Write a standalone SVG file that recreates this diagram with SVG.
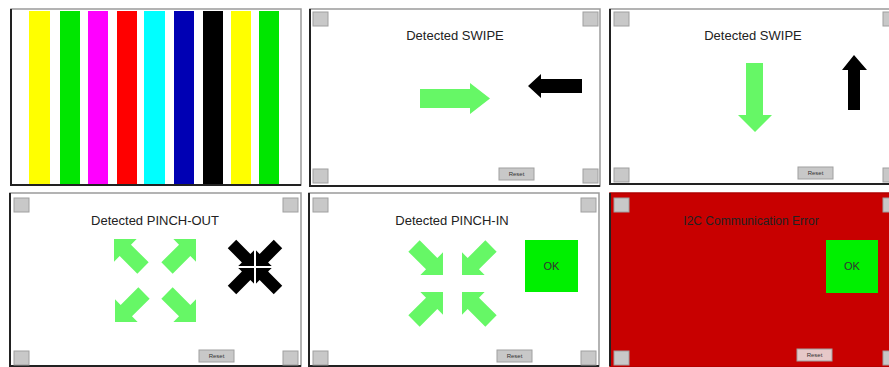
<svg xmlns="http://www.w3.org/2000/svg" xmlns:xlink="http://www.w3.org/1999/xlink" width="889" height="367" viewBox="0 0 889 367">
<style>
.frame{fill:#fff;stroke:#9a9a9a;stroke-width:1.5}
.edge{stroke:#222;stroke-width:2;fill:none}
.corner{fill:#c8c8c8;stroke:#a0a0a0;stroke-width:1}
.btn{fill:#c8c8c8;stroke:#a0a0a0;stroke-width:1}
.btxt{font-family:"Liberation Sans",Arial,sans-serif;font-size:6px;fill:#333;text-anchor:middle}
.title{font-family:"Liberation Sans",Arial,sans-serif;font-size:13px;fill:#222;text-anchor:middle}
.ok{fill:#00f000}
.oktxt{font-family:"Liberation Sans",Arial,sans-serif;font-size:11px;fill:#333;text-anchor:middle}
.g{fill:#66f766}
.k{fill:#000}
</style>
<defs>
<path id="pa" d="M0,-8 L25,-8 L25,-16 L41,0 L25,16 L25,8 L0,8 Z"/>
<path id="ka" d="M0,-6 L20,-6 L20,-13 L33,0 L20,13 L20,6 L0,6 Z"/>
</defs>
<rect width="889" height="367" fill="#fff"/>

<g id="panel-colorbars">
<rect class="frame" x="11" y="9" width="290" height="176"/>
<rect x="29" y="11" width="21" height="173" fill="#ffff00"/>
<rect x="60" y="11" width="20" height="173" fill="#00e600"/>
<rect x="88" y="11" width="20" height="173" fill="#ff00ff"/>
<rect x="117" y="11" width="20" height="173" fill="#ff0000"/>
<rect x="144" y="11" width="21" height="173" fill="#00ffff"/>
<rect x="174" y="11" width="20" height="173" fill="#0000b4"/>
<rect x="203" y="11" width="20" height="173" fill="#000"/>
<rect x="231" y="11" width="20" height="173" fill="#ffff00"/>
<rect x="259" y="11" width="20" height="173" fill="#00e600"/>
<path class="edge" d="M11,9 V185 H301"/>
</g>

<g id="panel-swipe-h">
<rect class="frame" x="310" y="9" width="290" height="177"/>
<path class="edge" d="M310,9 V186 H600"/>
<rect class="corner" x="313" y="12" width="15" height="14"/>
<rect class="corner" x="583" y="12" width="15" height="14"/>
<rect class="corner" x="313" y="169" width="15" height="14"/>
<rect class="corner" x="583" y="169" width="15" height="14"/>
<text class="title" x="455" y="40">Detected SWIPE</text>
<path class="g" d="M420,89 L470,89 L470,83 L490,98.5 L470,114 L470,108 L420,108 Z"/>
<path class="k" d="M528,86 L541,74 L541,79 L582,79 L582,93 L541,93 L541,98 Z"/>
<rect class="btn" x="499" y="168" width="35" height="12"/>
<text class="btxt" x="516.5" y="176">Reset</text>
</g>

<g id="panel-swipe-v">
<rect class="frame" x="610" y="9" width="290" height="175"/>
<path class="edge" d="M610,9 V184 H889"/>
<rect class="corner" x="614" y="12" width="15" height="14"/>
<rect class="corner" x="883" y="12" width="15" height="14"/>
<rect class="corner" x="614" y="168" width="15" height="14"/>
<rect class="corner" x="883" y="168" width="15" height="14"/>
<text class="title" x="753" y="40">Detected SWIPE</text>
<path class="g" d="M746,63 L763,63 L763,115 L772,115 L755,132 L738,115 L746,115 Z"/>
<path class="k" d="M854,55 L867,70 L860,70 L860,110 L848,110 L848,70 L842,70 Z"/>
<rect class="btn" x="798" y="167" width="35" height="12"/>
<text class="btxt" x="815.5" y="175">Reset</text>
</g>

<g id="panel-pinch-out">
<rect class="frame" x="10" y="193" width="291" height="173"/>
<path class="edge" d="M10,193 V366 H301"/>
<rect class="corner" x="14" y="198" width="15" height="14"/>
<rect class="corner" x="283" y="198" width="15" height="14"/>
<rect class="corner" x="14" y="351" width="15" height="14"/>
<rect class="corner" x="283" y="351" width="15" height="14"/>
<text class="title" x="155" y="225">Detected PINCH-OUT</text>
<use class="g" href="#pa" transform="translate(143,268) rotate(225)"/>
<use class="g" href="#pa" transform="translate(167,268) rotate(-45)"/>
<use class="g" href="#pa" transform="translate(144,293) rotate(135)"/>
<use class="g" href="#pa" transform="translate(167,293) rotate(45)"/>
<use class="k" href="#ka" transform="translate(232,244) rotate(45)"/>
<use class="k" href="#ka" transform="translate(278,244) rotate(135)"/>
<use class="k" href="#ka" transform="translate(232,290) rotate(-45)"/>
<use class="k" href="#ka" transform="translate(278,290) rotate(-135)"/>
<path d="M234,267 H276 M255,246 V288" stroke="#fff" stroke-width="2"/>
<rect class="btn" x="199" y="350" width="35" height="12"/>
<text class="btxt" x="216.5" y="358">Reset</text>
</g>

<g id="panel-pinch-in">
<rect class="frame" x="309" y="193" width="290" height="173"/>
<path class="edge" d="M309,193 V366 H599"/>
<rect class="corner" x="313" y="198" width="15" height="14"/>
<rect class="corner" x="581" y="198" width="15" height="14"/>
<rect class="corner" x="313" y="351" width="15" height="14"/>
<rect class="corner" x="581" y="351" width="15" height="14"/>
<text class="title" x="452" y="225">Detected PINCH-IN</text>
<use class="g" href="#pa" transform="translate(414,246) rotate(45)"/>
<use class="g" href="#pa" transform="translate(491,246) rotate(135)"/>
<use class="g" href="#pa" transform="translate(414,321) rotate(-45)"/>
<use class="g" href="#pa" transform="translate(491,321) rotate(-135)"/>
<rect class="ok" x="525" y="240" width="53" height="52"/>
<text class="oktxt" x="551.5" y="270">OK</text>
<rect class="btn" x="497" y="350" width="35" height="12"/>
<text class="btxt" x="514.5" y="358">Reset</text>
</g>

<g id="panel-failure">
<rect x="610" y="193" width="290" height="174" fill="#c80000" stroke="#b00000" stroke-width="1.5"/>
<path class="edge" d="M610,193 V366"/>
<rect class="corner" x="614" y="198" width="15" height="14"/>
<rect class="corner" x="883" y="198" width="15" height="14"/>
<rect class="corner" x="614" y="351" width="15" height="14"/>
<rect class="corner" x="883" y="351" width="15" height="14"/>
<text class="title" x="751" y="225" style="font-size:12px">I2C Communication Error</text>
<rect class="ok" x="826" y="240" width="52" height="53"/>
<text class="oktxt" x="852" y="270">OK</text>
<rect class="btn" x="797" y="349" width="35" height="12" style="fill:#e6c8c8"/>
<text class="btxt" x="814.5" y="357">Reset</text>
</g>
</svg>
